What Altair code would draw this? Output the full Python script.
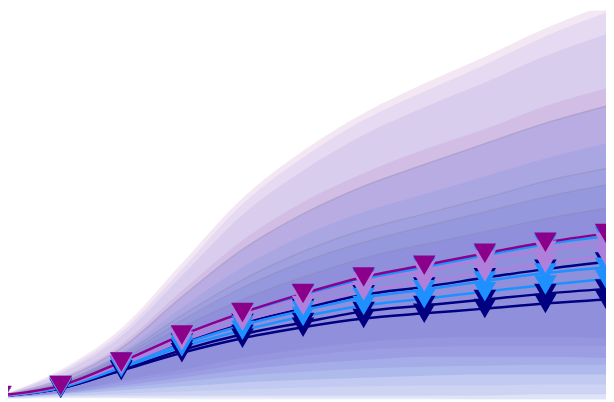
import altair as alt
import pandas as pd

steps = list(range(11))

# series paths, one per line
magenta = [1.0, 3.5, 9.5, 16.3, 22.0, 26.8, 31.0, 34.0, 37.0, 39.8, 42.0]
blue_a = [0.8, 3.5, 9.5, 16.0, 21.8, 26.5, 30.5, 33.5, 36.5, 39.3, 41.3]
lav_a = [0.8, 3.5, 9.3, 15.8, 21.3, 25.8, 29.8, 32.5, 35.3, 37.8, 39.8]
lav_b = [0.8, 3.3, 8.8, 14.8, 19.8, 23.8, 27.5, 29.8, 32.3, 34.5, 36.3]
navy_a = [0.8, 3.3, 8.5, 14.3, 19.3, 23.0, 26.5, 28.5, 30.8, 33.0, 34.8]
blue_b = [0.8, 3.0, 8.5, 14.0, 18.8, 22.5, 25.8, 27.8, 30.0, 32.0, 33.5]
blue_c = [0.8, 3.0, 8.0, 13.3, 17.5, 21.0, 23.8, 25.5, 27.3, 29.0, 30.5]
navy_b = [0.8, 2.8, 7.5, 12.5, 16.5, 19.5, 22.3, 23.8, 25.3, 26.8, 28.0]
navy_c = [0.8, 2.8, 7.3, 11.8, 15.5, 18.3, 20.5, 21.8, 23.0, 24.3, 25.3]

# drawing order: navy first, magenta on top
line_names = ["navy_c", "navy_b", "navy_a", "blue_c", "blue_b", "blue_a", "lav_b", "lav_a", "magenta"]
line_values = [navy_c, navy_b, navy_a, blue_c, blue_b, blue_a, lav_b, lav_a, magenta]
line_colors = ["#000080", "#000080", "#000080", "#1e90ff", "#1e90ff", "#1e90ff",
               "#b07fdc", "#b07fdc", "#8b008b"]

# upper side of the fan, widest first
upper_1 = [1.0, 7.5, 18.0, 34.5, 51.0, 63.0, 72.5, 80.0, 86.8, 94.0, 100.0]
upper_2 = [1.0, 7.0, 17.0, 33.0, 49.5, 61.3, 70.8, 78.0, 84.8, 92.0, 98.0]
upper_3 = [1.0, 6.5, 16.0, 31.3, 46.8, 58.0, 67.0, 74.0, 80.3, 87.0, 92.5]
upper_4 = [1.0, 5.5, 14.0, 27.5, 40.3, 50.0, 57.3, 63.3, 68.5, 74.3, 78.8]
upper_5 = [1.0, 5.0, 13.0, 26.0, 38.0, 47.0, 54.0, 59.5, 64.8, 70.0, 74.3]
upper_6 = [1.0, 4.5, 12.0, 23.3, 33.5, 41.5, 47.5, 52.0, 56.5, 61.0, 64.8]
upper_7 = [1.0, 4.3, 11.3, 21.3, 30.3, 37.5, 43.0, 47.0, 51.0, 55.3, 58.5]
upper_8 = [1.0, 4.0, 10.8, 20.0, 28.3, 34.8, 39.8, 43.8, 47.5, 51.3, 54.3]
upper_9 = [1.0, 3.8, 10.3, 18.3, 25.3, 31.0, 35.8, 39.3, 42.5, 45.8, 48.5]

# lower side of the fan, widest first
floor_1 = [0.0, 0.3, 0.3, 0.0, -0.3, -0.5, -0.8, -1.0, -1.0, -1.0, -1.0]
floor_2 = [0.3, 0.5, 0.5, 0.5, 0.5, 0.3, 0.3, 0.3, 0.0, 0.0, 0.0]
floor_3 = [0.3, 0.8, 1.0, 1.0, 1.0, 1.0, 1.0, 1.0, 1.0, 1.3, 1.3]
floor_4 = [0.5, 1.0, 1.5, 2.0, 2.5, 3.0, 3.3, 3.5, 3.5, 3.8, 3.8]
floor_5 = [0.5, 1.3, 2.3, 3.3, 4.3, 5.0, 5.5, 6.0, 6.3, 6.3, 6.3]
floor_6 = [0.5, 1.5, 3.0, 4.5, 6.0, 7.0, 7.8, 8.3, 8.5, 8.8, 8.8]
floor_7 = [0.5, 1.5, 3.5, 5.5, 7.5, 9.0, 10.0, 10.8, 10.8, 10.8, 10.5]
floor_8 = [0.5, 1.8, 4.3, 6.5, 9.0, 11.0, 12.5, 13.3, 13.5, 13.5, 13.5]
floor_9 = [0.5, 1.8, 4.8, 7.5, 10.5, 12.8, 14.5, 15.5, 15.8, 15.8, 15.5]

upper_names = ["u1", "u2", "u3", "u4", "u5", "u6", "u7", "u8", "u9"]
upper_edges = [upper_1, upper_2, upper_3, upper_4, upper_5, upper_6, upper_7, upper_8, upper_9]
upper_colors = ["#d8a8d8", "#a8a8e8", "#b0a0e0", "#c090d0", "#8c8ce0",
                "#7890e0", "#6a7ad8", "#6070d8", "#6a60d0"]
upper_alpha = [0.28, 0.2, 0.22, 0.25, 0.35, 0.22, 0.15, 0.15, 0.15]

floor_names = ["f1", "f2", "f3", "f4", "f5", "f6", "f7", "f8", "f9"]
floor_edges = [floor_1, floor_2, floor_3, floor_4, floor_5, floor_6, floor_7, floor_8, floor_9]
floor_colors = ["#788ce1", "#788ce1", "#788ce1", "#788ce1", "#788ce1",
                "#7468d0", "#7468d0", "#7468d0", "#7468d0"]
floor_alpha = [0.14, 0.12, 0.18, 0.11, 0.25, 0.17, 0.2, 0.13, 0.14]

edge_bands = ["u5", "u7", "u8", "u9"]

rows = []
for n, hi, c, a in zip(upper_names, upper_edges, upper_colors, upper_alpha):
    for i, s in enumerate(steps):
        rows.append({"band": n, "step": s, "lo": navy_c[i], "hi": hi[i], "fill": c, "alpha": a})
for n, lo, c, a in zip(floor_names, floor_edges, floor_colors, floor_alpha):
    for i, s in enumerate(steps):
        rows.append({"band": n, "step": s, "lo": lo[i], "hi": navy_c[i], "fill": c, "alpha": a})
bands = pd.DataFrame(rows)

lines = pd.DataFrame([
    {"series": n, "step": s, "value": v[i]}
    for n, v in zip(line_names, line_values)
    for i, s in enumerate(steps)
])

x = alt.X("step:Q", scale=alt.Scale(domain=[0.13, 10], nice=False, zero=False), axis=None)
yscale = alt.Scale(domain=[0, 98.5], nice=False, zero=False)
line_color = alt.Color("series:N", scale=alt.Scale(domain=line_names, range=line_colors), legend=None)

areas = alt.Chart(bands).mark_area(interpolate="monotone", clip=True).encode(
    x=x,
    y=alt.Y("hi:Q", scale=yscale, axis=None, stack=None),
    y2="lo:Q",
    color=alt.Color("fill:N", scale=None),
    opacity=alt.Opacity("alpha:Q", scale=None),
    detail="band:N",
)

edges = alt.Chart(bands).transform_filter(
    alt.FieldOneOfPredicate(field="band", oneOf=edge_bands)
).mark_line(interpolate="monotone", clip=True, color="#8a8aa8", opacity=0.35, strokeWidth=1.5).encode(
    x=x,
    y=alt.Y("hi:Q", scale=yscale, axis=None),
    detail="band:N",
)

paths = alt.Chart(lines).mark_line(interpolate="monotone", clip=True, strokeWidth=2.5).encode(
    x=x,
    y=alt.Y("value:Q", scale=yscale, axis=None),
    color=line_color,
    detail="series:N",
)

markers = alt.Chart(lines).mark_point(shape="triangle-down", filled=True, size=520, opacity=1, clip=True).encode(
    x=x,
    y=alt.Y("value:Q", scale=yscale, axis=None),
    color=line_color,
)

chart = alt.layer(areas, edges, paths, markers).resolve_scale(
    color="independent",
).properties(
    width=606, height=394, padding=0, autosize=alt.AutoSizeParams(type="none"),
).configure_view(strokeWidth=0)

chart.save("out.html", embed_options={"renderer": "svg", "actions": False})
